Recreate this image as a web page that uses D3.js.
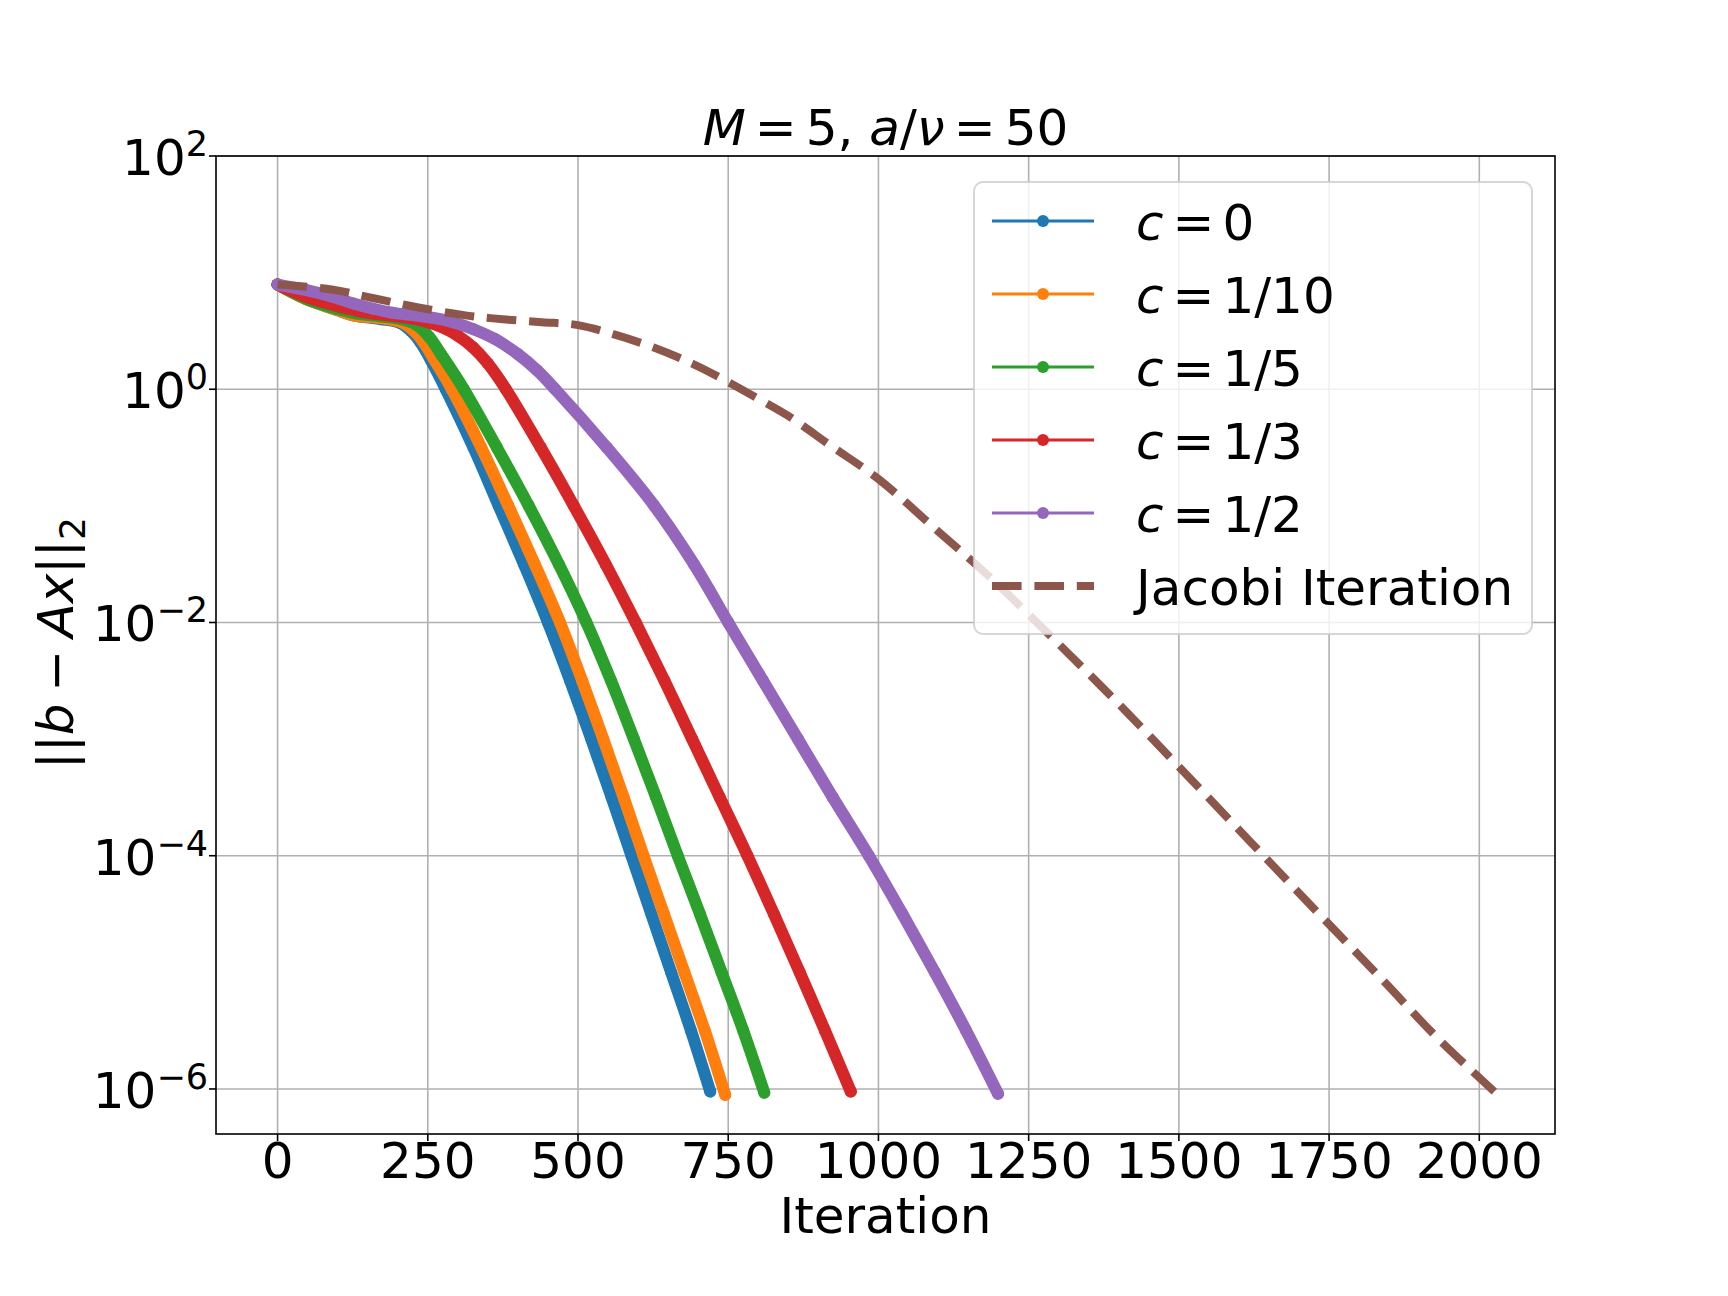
<!DOCTYPE html>
<html><head><meta charset="utf-8">
<script src="https://cdn.jsdelivr.net/npm/d3@7"></script>
<style>
body{margin:0;background:#fff}
svg{display:block}
text{font-family:"DejaVu Sans";fill:#000}
</style>
</head><body>
<svg id="chart" width="1728" height="1296"></svg>
<script>
// ---------- data ----------
const iterTicks = [0, 250, 500, 750, 1000, 1250, 1500, 1750, 2000];
const yTickExponents = [2, 0, -2, -4, -6];
const seriesLabels = ["0", "1/10", "1/5", "1/3", "1/2"];
const seriesColors = ["#1f77b4", "#ff7f0e", "#2ca02c", "#d62728", "#9467bd"];
const jacobiLabel = "Jacobi Iteration";
const jacobiColor = "#8c564b";

// [iteration, residual ||b - Ax||_2]
const seriesC0 = [[0,7.9],[48,5.9],[98,4.8],[126,4.3],[170,4.0],[204,3.7],[222,3.16],[238,2.51],[255,1.78],[280,1.0],[326,0.316],[368,0.1],[410,0.0316],[450,0.01],[487,3.16e-3],[522,1e-3],[556,3.16e-4],[589,1e-4],[622,3.16e-5],[655,1e-5],[688,3.16e-6],[720,9.5e-7]];
const seriesC10 = [[0,7.9],[48,5.9],[98,4.8],[126,4.3],[170,4.07],[206,3.76],[225,3.24],[242,2.57],[260,1.82],[290,1.0],[339,0.316],[384,0.1],[428,0.0316],[470,0.01],[507,3.16e-3],[542,1e-3],[576,3.16e-4],[609,1e-4],[643,3.16e-5],[677,1e-5],[711,3.16e-6],[745,8.9e-7]];
const seriesC5 = [[0,7.9],[48,5.96],[98,4.9],[130,4.47],[170,4.22],[206,3.98],[232,3.55],[252,2.82],[272,2.0],[310,1.0],[365,0.316],[418,0.1],[468,0.0316],[514,0.01],[555,3.16e-3],[593,1e-3],[630,3.16e-4],[666,1e-4],[703,3.16e-5],[739,1e-5],[775,3.16e-6],[810,9.3e-7]];
const seriesC3 = [[0,7.9],[48,6.17],[98,5.19],[140,4.62],[180,4.32],[220,4.07],[250,3.76],[275,3.39],[300,2.88],[325,2.29],[350,1.66],[380,1.0],[438,0.316],[493,0.1],[546,0.0316],[596,0.01],[644,3.16e-3],[690,1e-3],[736,3.16e-4],[782,1e-4],[826,3.16e-5],[869,1e-5],[911,3.16e-6],[954,9.5e-7]];
const seriesC2 = [[0,7.9],[48,7.08],[87,6.31],[126,5.43],[159,4.9],[192,4.52],[226,4.32],[259,4.09],[292,3.76],[326,3.27],[362,2.69],[400,2.0],[432,1.45],[462,1.0],[548,0.316],[627,0.1],[693,0.0316],[750,0.01],[808,3.16e-3],[866,1e-3],[924,3.16e-4],[984,1e-4],[1040,3.16e-5],[1094,1e-5],[1146,3.16e-6],[1199,9.1e-7]];
const seriesJacobi = [[0,7.9],[90,7.16],[160,6.03],[230,5.07],[310,4.32],[375,3.98],[440,3.76],[500,3.55],[560,2.95],[625,2.29],[690,1.66],[740,1.23],[800,0.83],[850,0.59],[920,0.33],[1000,0.17],[1100,0.060],[1180,0.026],[1250,0.0117],[1400,2.0e-3],[1500,5.8e-4],[1620,1.3e-4],[1730,3.3e-5],[1840,8.5e-6],[1930,2.75e-6],[2025,9.5e-7]];

const cSeries = [seriesC0, seriesC10, seriesC5, seriesC3, seriesC2];

// ---------- layout ----------
const L = 216, R = 1555, T = 156, B = 1134;
const FS = 50;
const svg = d3.select("#chart");
const x = d3.scaleLinear().domain([-102.5, 2126]).range([L, R]);
const y = d3.scaleLog().domain([4.11e-7, 100]).range([B, T]);

svg.append("defs").append("clipPath").attr("id","plotclip")
  .append("rect").attr("x",L).attr("y",T).attr("width",R-L).attr("height",B-T);

// grid
const grid = svg.append("g");
grid.selectAll(".gx").data(iterTicks).enter().append("line")
  .attr("x1",d=>x(d)).attr("x2",d=>x(d)).attr("y1",T).attr("y2",B)
  .attr("stroke","#b0b0b0").attr("stroke-width",1.6);
grid.selectAll(".gy").data(yTickExponents).enter().append("line")
  .attr("y1",d=>y(Math.pow(10,d))).attr("y2",d=>y(Math.pow(10,d))).attr("x1",L).attr("x2",R)
  .attr("stroke","#b0b0b0").attr("stroke-width",1.6);

// data
const plot = svg.append("g").attr("clip-path","url(#plotclip)");
const line = d3.line().x(d=>x(d[0])).y(d=>y(d[1])).curve(d3.curveCatmullRom.alpha(0.5));
cSeries.forEach((s,i)=>{
  const g = plot.append("g");
  g.append("path").datum(s).attr("d",line).attr("fill","none")
    .attr("stroke",seriesColors[i]).attr("stroke-width",12)
    .attr("stroke-linecap","round").attr("stroke-linejoin","round");
  g.selectAll("circle").data(s).enter().append("circle")
    .attr("cx",d=>x(d[0])).attr("cy",d=>y(d[1])).attr("r",6).attr("fill",seriesColors[i]);
});
plot.append("path").datum(seriesJacobi).attr("d",line).attr("fill","none")
  .attr("stroke",jacobiColor).attr("stroke-width",8)
  .attr("stroke-dasharray","29.6,12.8").attr("stroke-linecap","butt");

// spines
svg.append("rect").attr("x",L).attr("y",T).attr("width",R-L).attr("height",B-T)
  .attr("fill","none").attr("stroke","#000").attr("stroke-width",1.6);

// x ticks
const xt = svg.append("g");
xt.selectAll("line").data(iterTicks).enter().append("line")
  .attr("x1",d=>x(d)).attr("x2",d=>x(d)).attr("y1",B).attr("y2",B+7)
  .attr("stroke","#000").attr("stroke-width",1.6);
xt.selectAll("text").data(iterTicks).enter().append("text")
  .attr("x",d=>x(d)).attr("y",1178).attr("text-anchor","middle")
  .attr("font-size",FS).text(d=>d);

// y ticks
const yt = svg.append("g");
yt.selectAll("line").data(yTickExponents).enter().append("line")
  .attr("x1",L-7).attr("x2",L).attr("y1",d=>y(Math.pow(10,d))).attr("y2",d=>y(Math.pow(10,d)))
  .attr("stroke","#000").attr("stroke-width",1.6);
yTickExponents.forEach(e=>{
  const t = yt.append("text").attr("x",208).attr("y",y(Math.pow(10,e))+19)
    .attr("text-anchor","end").attr("font-size",FS);
  t.append("tspan").text("10");
  t.append("tspan").attr("font-size",35).attr("dy",-19)
    .text(e<0 ? "\u2212"+Math.abs(e) : String(e));
});

// x label
svg.append("text").attr("x",(L+R)/2).attr("y",1233).attr("text-anchor","middle")
  .attr("font-size",FS).text("Iteration");

// y label  ||b − Ax||_2
const yl = svg.append("text").attr("transform","translate(73,643) rotate(-90)")
  .attr("text-anchor","middle").attr("font-size",FS);
yl.append("tspan").text("||");
yl.append("tspan").attr("font-style","italic").text("b");
yl.append("tspan").attr("dx",12).text("\u2212");
yl.append("tspan").attr("dx",12).attr("font-style","italic").text("Ax");
yl.append("tspan").text("||");
yl.append("tspan").attr("font-size",36).attr("dy",12).text("2");

// title  M = 5, a/ν = 50
const tt = svg.append("text").attr("x",(L+R)/2).attr("y",145).attr("text-anchor","middle")
  .attr("font-size",50);
tt.append("tspan").attr("font-style","italic").text("M");
tt.append("tspan").attr("dx",9).text("=");
tt.append("tspan").attr("dx",9).text("5, ");
tt.append("tspan").attr("font-style","italic").text("a");
tt.append("tspan").text("/");
tt.append("tspan").attr("font-style","italic").text("\u03bd");
tt.append("tspan").attr("dx",9).text("=");
tt.append("tspan").attr("dx",9).text("50");

// legend
const lg = svg.append("g");
lg.append("rect").attr("x",974).attr("y",182).attr("width",558).attr("height",452)
  .attr("rx",9).attr("fill","#fff").attr("fill-opacity",0.8)
  .attr("stroke","#cccccc").attr("stroke-opacity",0.8).attr("stroke-width",2);
const rowY = i => 221 + 73*i;
seriesLabels.forEach((lab,i)=>{
  lg.append("line").attr("x1",992).attr("x2",1094).attr("y1",rowY(i)).attr("y2",rowY(i))
    .attr("stroke",seriesColors[i]).attr("stroke-width",3);
  lg.append("circle").attr("cx",1043).attr("cy",rowY(i)).attr("r",6).attr("fill",seriesColors[i]);
  const t = lg.append("text").attr("x",1136).attr("y",rowY(i)+19).attr("font-size",FS);
  t.append("tspan").attr("font-style","italic").text("c");
  t.append("tspan").attr("dx",9).text("=");
  t.append("tspan").attr("dx",8).text(lab);
});
lg.append("line").attr("x1",992).attr("x2",1094).attr("y1",rowY(5)).attr("y2",rowY(5))
  .attr("stroke",jacobiColor).attr("stroke-width",8).attr("stroke-dasharray","29.6,12.8");
lg.append("text").attr("x",1136).attr("y",rowY(5)+19).attr("font-size",FS).text(jacobiLabel);
</script>
</body></html>
